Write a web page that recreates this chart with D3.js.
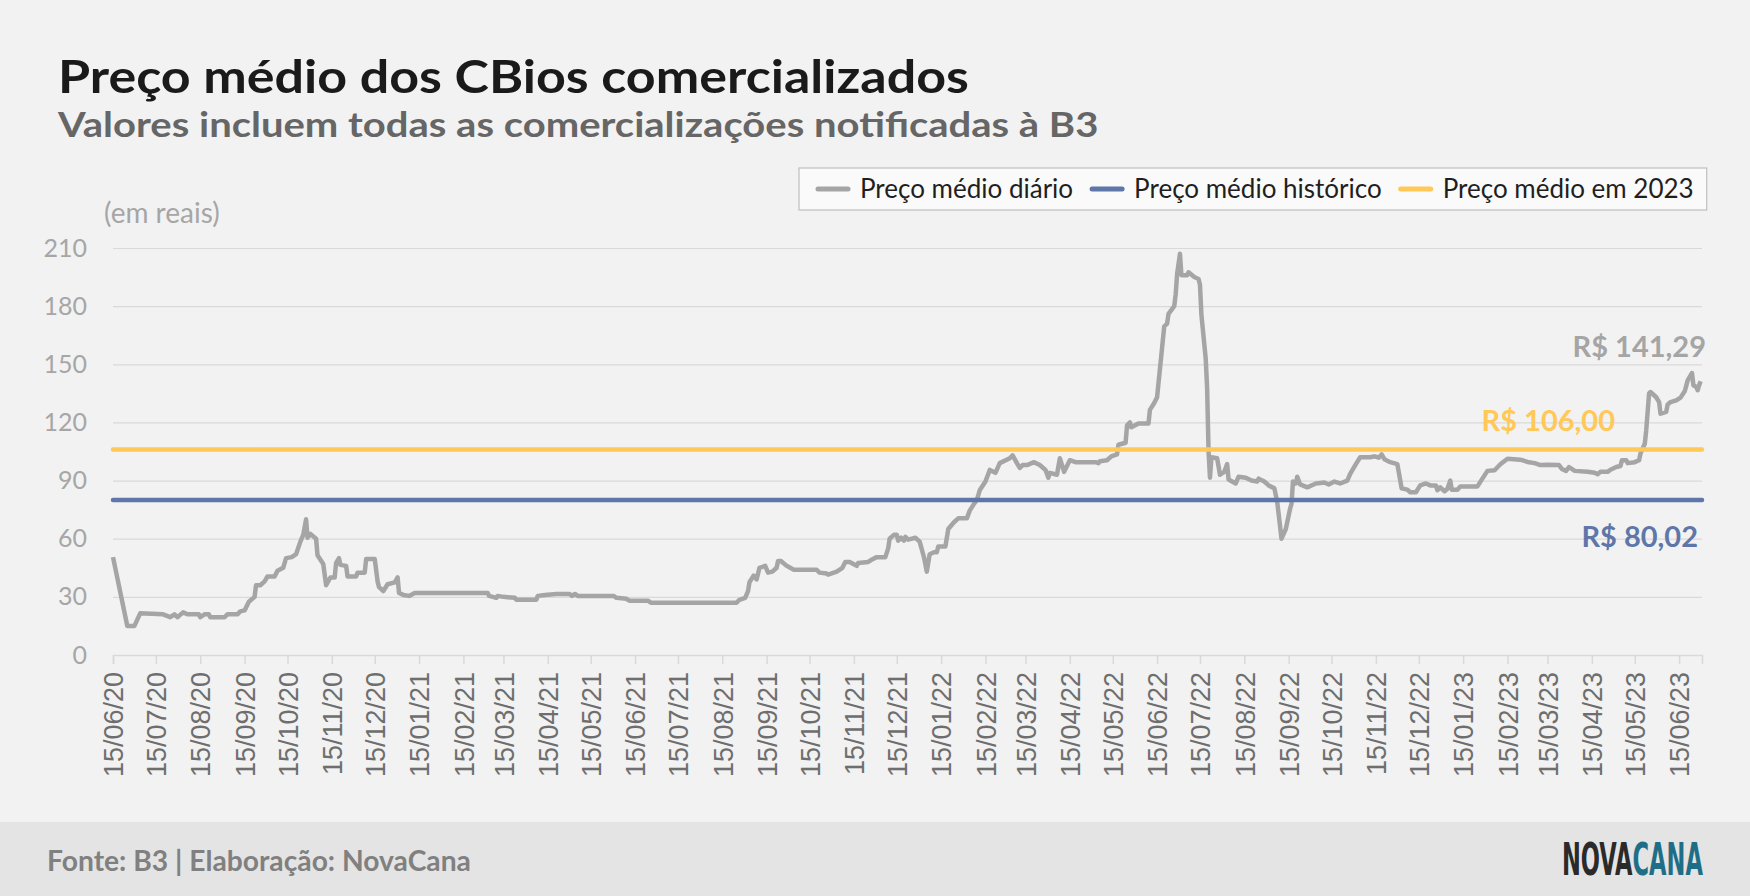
<!DOCTYPE html>
<html>
<head>
<meta charset="utf-8">
<script src="https://cdn.jsdelivr.net/npm/d3@7"></script>
<style>
  body { margin: 0; background: #f2f2f2; }
  svg { display: block; }
</style>
</head>
<body>
<svg id="chart"></svg>
<script>
// datas das cotações
const datas = [
  "2020-06-15","2020-06-25","2020-06-30","2020-07-04","2020-07-20","2020-07-25","2020-07-28","2020-07-30","2020-08-03","2020-08-06",
  "2020-08-14","2020-08-15","2020-08-18","2020-08-21","2020-08-22","2020-09-01","2020-09-03","2020-09-10","2020-09-12","2020-09-15",
  "2020-09-18","2020-09-22","2020-09-23","2020-09-26","2020-09-29","2020-10-01","2020-10-06","2020-10-08","2020-10-12","2020-10-14",
  "2020-10-18","2020-10-21","2020-10-24","2020-10-26","2020-10-28","2020-10-29","2020-10-31","2020-11-04","2020-11-05","2020-11-09",
  "2020-11-11","2020-11-14","2020-11-17","2020-11-18","2020-11-20","2020-11-21","2020-11-25","2020-11-26","2020-12-02","2020-12-03",
  "2020-12-08","2020-12-09","2020-12-15","2020-12-17","2020-12-18","2020-12-21","2020-12-24","2020-12-29","2020-12-31","2021-01-01",
  "2021-01-04","2021-01-08","2021-01-12","2021-03-04","2021-03-05","2021-03-10","2021-03-11","2021-03-15","2021-03-23","2021-03-24",
  "2021-04-07","2021-04-08","2021-04-13","2021-04-21","2021-04-30","2021-05-02","2021-05-04","2021-05-06","2021-05-31","2021-06-02",
  "2021-06-09","2021-06-11","2021-06-24","2021-06-26","2021-08-25","2021-08-27","2021-08-31","2021-09-02","2021-09-03","2021-09-06",
  "2021-09-08","2021-09-10","2021-09-14","2021-09-16","2021-09-19","2021-09-22","2021-09-23","2021-09-25","2021-09-29","2021-10-04",
  "2021-10-20","2021-10-22","2021-10-27","2021-10-28","2021-11-03","2021-11-07","2021-11-09","2021-11-12","2021-11-17","2021-11-18",
  "2021-11-25","2021-11-27","2021-12-01","2021-12-07","2021-12-09","2021-12-10","2021-12-13","2021-12-15","2021-12-16","2021-12-18",
  "2021-12-20","2021-12-21","2021-12-23","2021-12-28","2021-12-31","2022-01-03","2022-01-05","2022-01-07","2022-01-10","2022-01-12",
  "2022-01-13","2022-01-18","2022-01-20","2022-01-24","2022-01-27","2022-02-02","2022-02-04","2022-02-07","2022-02-09","2022-02-11",
  "2022-02-15","2022-02-18","2022-02-22","2022-02-25","2022-03-04","2022-03-06","2022-03-09","2022-03-11","2022-03-13","2022-03-16",
  "2022-03-21","2022-03-25","2022-03-29","2022-03-31","2022-04-01","2022-04-06","2022-04-08","2022-04-11","2022-04-15","2022-04-19",
  "2022-05-03","2022-05-05","2022-05-06","2022-05-11","2022-05-14","2022-05-18","2022-05-19","2022-05-24","2022-05-25","2022-05-27",
  "2022-05-28","2022-06-02","2022-06-09","2022-06-10","2022-06-13","2022-06-15","2022-06-20","2022-06-22","2022-06-23","2022-06-27",
  "2022-06-28","2022-06-29","2022-07-01","2022-07-02","2022-07-06","2022-07-07","2022-07-11","2022-07-14","2022-07-15","2022-07-16",
  "2022-07-19","2022-07-20","2022-07-21","2022-07-22","2022-07-23","2022-07-27","2022-07-29","2022-08-01","2022-08-03","2022-08-04",
  "2022-08-09","2022-08-11","2022-08-16","2022-08-20","2022-08-24","2022-08-25","2022-08-29","2022-09-01","2022-09-05","2022-09-07",
  "2022-09-10","2022-09-13","2022-09-16","2022-09-17","2022-09-18","2022-09-20","2022-09-21","2022-09-23","2022-09-28","2022-10-04",
  "2022-10-10","2022-10-13","2022-10-17","2022-10-21","2022-10-26","2022-10-28","2022-11-01","2022-11-04","2022-11-11","2022-11-14",
  "2022-11-17","2022-11-19","2022-11-21","2022-11-25","2022-11-30","2022-12-03","2022-12-07","2022-12-09","2022-12-13","2022-12-16",
  "2022-12-20","2022-12-23","2022-12-27","2022-12-28","2022-12-30","2023-01-02","2023-01-04","2023-01-06","2023-01-07","2023-01-11",
  "2023-01-13","2023-01-25","2023-01-28","2023-02-01","2023-02-06","2023-02-10","2023-02-15","2023-02-24","2023-03-01","2023-03-06",
  "2023-03-10","2023-03-15","2023-03-23","2023-03-25","2023-03-28","2023-03-30","2023-04-03","2023-04-12","2023-04-17","2023-04-19",
  "2023-04-21","2023-04-26","2023-04-28","2023-05-02","2023-05-05","2023-05-06","2023-05-09","2023-05-10","2023-05-15","2023-05-18",
  "2023-05-19","2023-05-22","2023-05-23","2023-05-25","2023-05-26","2023-05-30","2023-06-01","2023-06-02","2023-06-06","2023-06-07",
  "2023-06-09","2023-06-13","2023-06-16","2023-06-19","2023-06-21","2023-06-24","2023-06-25","2023-06-27","2023-06-28","2023-06-29",
  "2023-06-30"
];

// preço médio diário (R$), mesma ordem das datas
const precos = [
  50.5, 15, 15, 21.5, 21, 19.5, 21, 19.5, 22, 21,
  21, 19.5, 21, 21, 19.5, 19.5, 21, 21, 22.5, 23,
  27.5, 30, 36, 36, 38, 40.5, 40.5, 43.5, 45, 50,
  50.5, 52, 58.5, 62, 70, 60.5, 62.5, 60, 51.5, 47,
  36, 40, 40, 47.5, 50, 46.5, 46, 40.5, 40.5, 42.5,
  42.5, 49.5, 49.5, 38, 35, 33, 36.5, 37.5, 40, 32,
  31, 30.5, 32, 32, 30.5, 29.5, 30.5, 30, 29.5, 28.5,
  28.5, 30.5, 31, 31.5, 31.5, 30.5, 31.5, 30.5, 30.5, 29.5,
  29, 28, 28, 27, 27, 28.5, 29.5, 33, 37.5, 41,
  39, 45, 46, 42.5, 43, 45, 48.5, 48.5, 46, 44,
  44, 42.5, 42, 41.5, 43, 45, 48, 48, 46, 47.5,
  48, 49, 50.5, 50.5, 55, 60, 62, 62, 59, 60.5,
  59, 61, 59.5, 60.5, 58.5, 50.5, 43, 52, 53, 53,
  56, 56, 65, 68.5, 70.5, 70.5, 74.5, 78, 80, 85,
  89.5, 95.5, 94, 99, 101.5, 103, 99, 96.5, 98, 98,
  99.5, 98, 95.5, 91.5, 94, 93, 101.5, 94.5, 100.5, 99.5,
  99.5, 99, 100, 100.5, 102.5, 103.5, 108.5, 109.5, 118.5, 120,
  117.5, 119.5, 119.5, 126.5, 130, 133, 169.5, 171, 176, 180,
  186, 196.5, 207, 196, 196, 197.5, 195, 194, 191, 175.5,
  153, 137.5, 105, 91.5, 102, 101.5, 93, 94.5, 98.5, 90.5,
  88.5, 92, 91.5, 90, 89.5, 91, 89.5, 87.5, 86, 79,
  60, 65, 75.5, 78, 89.5, 88.5, 92, 88, 86.5, 88.5,
  89, 88, 89.5, 88.5, 90, 93.5, 98.5, 102, 102, 102.5,
  101.8, 103.5, 101, 99.5, 98.5, 86, 85.3, 84, 84, 87.5,
  88.5, 87.5, 87.5, 85, 86.5, 84.5, 85.8, 90, 85.3, 85.3,
  87, 87, 90.5, 95, 95.3, 98.4, 101.3, 100.8, 99.6, 99,
  98, 98.2, 98, 96, 95, 97, 95, 94.5, 94, 93.3,
  94.5, 94.5, 95.6, 97, 97.5, 100.5, 100.5, 99, 99.5, 100.5,
  104, 109, 116, 135, 135.7, 133, 130.5, 124.5, 125.5, 129.3,
  130.5, 131.4, 132.8, 136.2, 141.7, 145.5, 139.2, 138.3, 136.6, 139.2,
  141.29
];

const mediaHistorica = 80.02;
const media2023 = 106.00;

const yTicks = [0, 30, 60, 90, 120, 150, 180, 210];
const xTickLabels = [
  "15/06/20","15/07/20","15/08/20","15/09/20","15/10/20","15/11/20","15/12/20",
  "15/01/21","15/02/21","15/03/21","15/04/21","15/05/21","15/06/21","15/07/21","15/08/21","15/09/21","15/10/21","15/11/21","15/12/21",
  "15/01/22","15/02/22","15/03/22","15/04/22","15/05/22","15/06/22","15/07/22","15/08/22","15/09/22","15/10/22","15/11/22","15/12/22",
  "15/01/23","15/02/23","15/03/23","15/04/23","15/05/23","15/06/23"
];
const series = ["Preço médio diário", "Preço médio histórico", "Preço médio em 2023"];
const cores = ["#a5a5a5", "#5e77a8", "#ffc857"];

const W = 1750, H = 896;
const plot = { left: 113, right: 1702, top: 248, bottom: 655 };

const svg = d3.select("#chart").attr("width", W).attr("height", H)
    .style("font-family", "Lato, 'Noto Sans', sans-serif");

svg.append("rect").attr("width", W).attr("height", H).attr("fill", "#f2f2f2");
svg.append("rect").attr("y", 822).attr("width", W).attr("height", H - 822).attr("fill", "#e4e4e4");

// texto estreitado horizontalmente ate a largura do original
function narrowText(x0, y0, target) {
    let g = svg.append("g");
    let t = g.append("text").attr("x", 0).attr("y", 0);
    return {
        text: t,
        done: function () {
            let w = t.node().getComputedTextLength();
            g.attr("transform", "translate(" + x0 + "," + y0 + ") scale(" + (target / w) + ",1)");
        }
    };
}

// titulos
let title = narrowText(58, 93, 911);
title.text.attr("font-size", 46).attr("font-weight", 700).attr("fill", "#1a1a1a")
    .text("Preço médio dos CBios comercializados");
title.done();

let subtitle = narrowText(58, 137, 1041);
subtitle.text.attr("font-size", 35).attr("font-weight", 700).attr("fill", "#666666")
    .text("Valores incluem todas as comercializações notificadas à B3");
subtitle.done();

svg.append("text")
    .attr("x", 104).attr("y", 223)
    .attr("font-size", 28).attr("fill", "#a6a6a6")
    .text("(em reais)");

// escalas
let parse = d3.timeParse("%Y-%m-%d");
let parseTick = d3.timeParse("%d/%m/%y");
let data = datas.map(function (d, i) { return { date: parse(d), v: precos[i] }; });

let x = d3.scaleTime()
    .domain([parse("2020-06-15"), parse("2023-07-01")])
    .range([plot.left, plot.right]);
let y = d3.scaleLinear().domain([0, 210]).range([plot.bottom, plot.top]);

// grade e eixo y
let yAxis = svg.append("g")
    .attr("transform", "translate(" + plot.left + ",0)")
    .call(d3.axisLeft(y).tickValues(yTicks).tickSize(-(plot.right - plot.left)).tickPadding(26));
yAxis.select(".domain").remove();
yAxis.selectAll(".tick line").attr("stroke", "#d9d9d9").attr("stroke-width", 1.2);
yAxis.selectAll(".tick text")
    .attr("font-family", "Lato, sans-serif").attr("font-size", 25).attr("fill", "#a6a6a6");

// eixo x
let xAxis = svg.append("g")
    .attr("transform", "translate(0," + plot.bottom + ")")
    .call(d3.axisBottom(x)
        .tickValues(xTickLabels.map(parseTick))
        .tickSize(9)
        .tickFormat(d3.timeFormat("%d/%m/%y")));
xAxis.select(".domain").attr("stroke", "#d9d9d9").attr("stroke-width", 1.5);
xAxis.selectAll(".tick line").attr("stroke", "#d9d9d9").attr("stroke-width", 1.5);
xAxis.selectAll(".tick text")
    .attr("transform", "rotate(-90)")
    .attr("x", -17).attr("y", 0).attr("dy", "0.36em")
    .attr("text-anchor", "end")
    .attr("font-family", "'Liberation Sans', Arial, sans-serif")
    .attr("font-size", 27).attr("fill", "#6e6e6e");

// serie diaria
let line = d3.line().x(function (d) { return x(d.date); }).y(function (d) { return y(d.v); });
svg.append("path").datum(data)
    .attr("d", line)
    .attr("fill", "none")
    .attr("stroke", cores[0])
    .attr("stroke-width", 4.5)
    .attr("stroke-linejoin", "round");

// medias
[mediaHistorica, media2023].forEach(function (m, i) {
    svg.append("line")
        .attr("x1", x.range()[0]).attr("x2", x.range()[1])
        .attr("y1", y(m)).attr("y2", y(m))
        .attr("stroke", cores[i + 1]).attr("stroke-width", 4.5)
        .attr("stroke-linecap", "round");
});

// rotulos
let fmt = function (v) { return "R$ " + d3.format(".2f")(v).replace(".", ","); };
let last = data[data.length - 1];
svg.append("text")
    .attr("x", 1706).attr("y", y(last.v) - 24)
    .attr("text-anchor", "end").attr("font-size", 29).attr("font-weight", 700)
    .attr("fill", cores[0]).text(fmt(last.v));
svg.append("text")
    .attr("x", 1615).attr("y", y(media2023) - 19)
    .attr("text-anchor", "end").attr("font-size", 29).attr("font-weight", 700)
    .attr("fill", cores[2]).text(fmt(media2023));
svg.append("text")
    .attr("x", 1698).attr("y", y(mediaHistorica) + 47)
    .attr("text-anchor", "end").attr("font-size", 29).attr("font-weight", 700)
    .attr("fill", cores[1]).text(fmt(mediaHistorica));

// legenda
let legend = svg.append("g");
let box = legend.append("rect")
    .attr("x", 799).attr("y", 168).attr("height", 42)
    .attr("fill", "#fafafa").attr("stroke", "#bfbfbf").attr("stroke-width", 1.2);
let lx = 816;
series.forEach(function (s, i) {
    legend.append("line")
        .attr("x1", lx + 2).attr("x2", lx + 32)
        .attr("y1", 189).attr("y2", 189)
        .attr("stroke", cores[i]).attr("stroke-width", 5).attr("stroke-linecap", "round");
    let t = legend.append("text")
        .attr("x", lx + 44).attr("y", 198)
        .attr("font-size", 26).attr("fill", "#1f1f1f")
        .text(s);
    lx += 44 + t.node().getComputedTextLength() + 17;
});
box.attr("width", lx - 17 + 13 - 799);

// rodape
let fonte = narrowText(47, 871, 424);
fonte.text.attr("font-size", 28).attr("font-weight", 700).attr("fill", "#808080")
    .text("Fonte: B3 | Elaboração: NovaCana");
fonte.done();

let logo = narrowText(1562, 875, 141);
logo.text
    .attr("font-family", "'Liberation Sans Narrow', 'DejaVu Sans Condensed', sans-serif")
    .attr("font-size", 45).attr("font-weight", 700);
logo.text.append("tspan").attr("fill", "#2a2a2a").text("NOVA");
logo.text.append("tspan").attr("fill", "#1f6e87").text("CANA");
logo.done();
</script>
</body>
</html>
